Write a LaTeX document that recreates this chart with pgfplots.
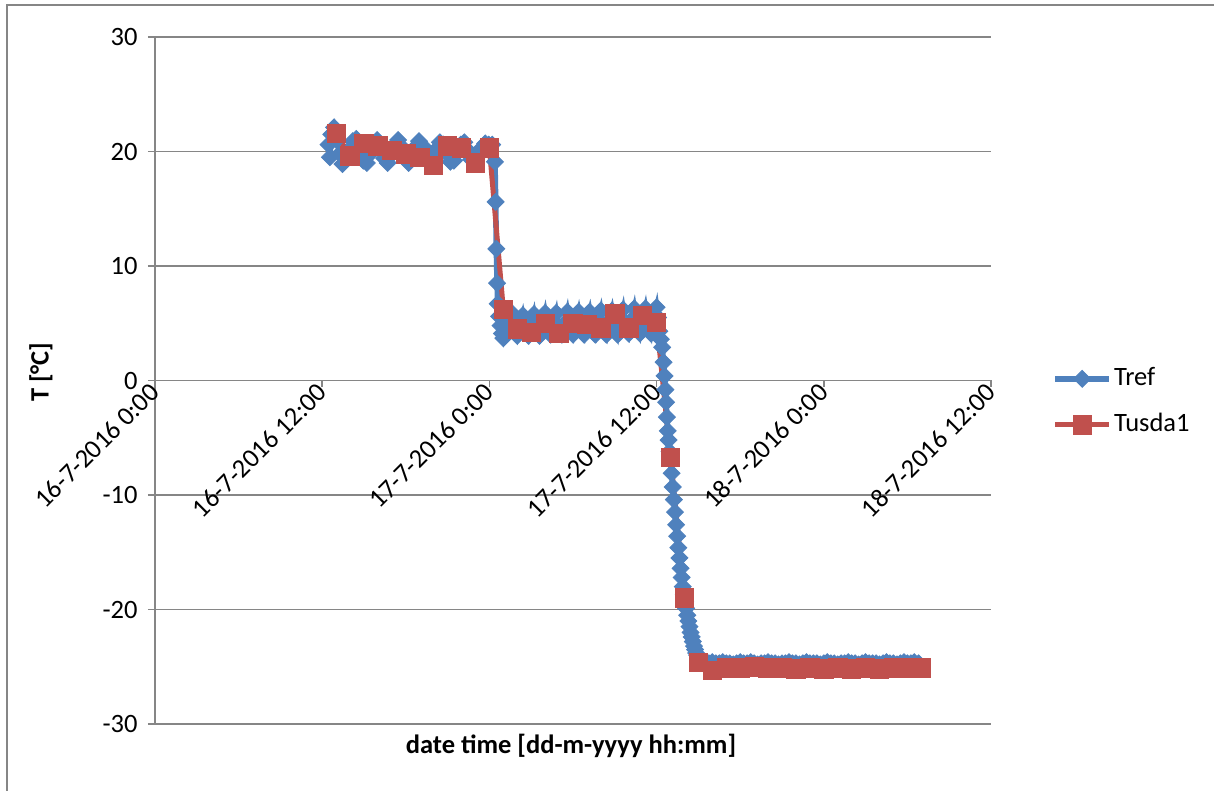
\documentclass[border=0pt]{standalone}
\usepackage{fontspec}
\setmainfont{Carlito}
\usepackage{pgfplots}
\pgfplotsset{compat=1.18}
\definecolor{tref}{RGB}{79,129,189}
\definecolor{tusda}{RGB}{192,80,77}
\definecolor{gridc}{RGB}{134,134,134}
\newcommand{\fs}{\fontsize{13.25pt}{15.5pt}\selectfont}
\begin{document}
\fs
\begin{tikzpicture}
\useasboundingbox (-77.5pt,-33.5pt) rectangle (529.5pt,362pt);
\draw[gridc, line width=0.7pt] (-74pt,-33.5pt) -- (-74pt,359.5pt) -- (529.5pt,359.5pt);
\begin{axis}[
  at={(0pt,0pt)}, anchor=south west,
  scale only axis, width=418pt, height=343.5pt,
  xmin=0, xmax=60, ymin=-30, ymax=30,
  axis x line=middle, axis y line=left,
  hide obscured x ticks=false, hide obscured y ticks=false,
  axis line style={gridc, line width=0.8pt, -},
  xtick={0,12,24,36,48,60},
  xticklabels={16-7-2016 0:00,16-7-2016 12:00,17-7-2016 0:00,17-7-2016 12:00,18-7-2016 0:00,18-7-2016 12:00},
  ytick={-30,-20,-10,0,10,20,30},
  yticklabels={-30,-20,-10,0,10,20,30},
  ymajorgrids, grid style={gridc, line width=0.8pt},
  tick align=outside, major tick length=3.5pt,
  tick style={gridc, line width=0.8pt},
  every tick label/.append style={font=\fs, text=black},
  xticklabel style={rotate=45, anchor=east, inner sep=0pt},
  yticklabel style={anchor=east, inner sep=0pt, xshift=-5pt},
  xlabel={\bfseries date time [dd-m-yyyy hh:mm]},
  ylabel={\bfseries T [°C]},
  every axis x label/.style={at={(axis description cs:0.4976,0)}, anchor=center, yshift=-11pt, font=\fs},
  every axis y label/.style={at={(axis description cs:0,0.512)}, xshift=-57pt, rotate=90, anchor=center, font=\fs},
  legend style={at={(1.073,0.469)}, anchor=west, draw=none, fill=none, inner sep=0pt,
    font=\fs, row sep=8.5pt, nodes={inner sep=1pt, text height=9.5pt, text depth=3pt}},
  legend cell align=left,
  legend image code/.code={\draw[mark repeat=2,mark phase=2,#1] plot coordinates {(0pt,0pt) (13.5pt,0pt) (27pt,0pt)};},
]
\addplot[color=tref, line width=2.8pt, mark=square*, mark size=3pt,
  mark options={rotate=45, fill=tref, draw=tref, line width=0.4pt, solid}] coordinates {
(12.45,20.6) (12.55,19.5) (12.65,21.5) (12.85,22.1) (13.05,21.0) (13.25,19.8) (13.45,18.9) (13.70,19.3)
(13.95,20.1) (14.20,20.9) (14.45,21.1) (14.70,20.2) (14.95,19.2) (15.20,19.0) (15.45,19.8) (15.70,20.6)
(15.95,21.0) (16.20,20.3) (16.45,19.4) (16.70,19.0) (16.95,19.7) (17.20,20.5) (17.45,21.0) (17.70,20.4)
(17.95,19.5) (18.20,19.0) (18.45,19.6) (18.70,20.4) (18.95,20.9) (19.20,20.5) (19.45,19.6) (19.70,19.0)
(19.95,19.4) (20.20,20.2) (20.45,20.8) (20.70,20.6) (20.95,19.8) (21.20,19.1) (21.45,19.2) (21.70,19.9)
(21.95,20.6) (22.20,20.8) (22.45,20.1) (22.70,19.3) (22.95,19.0) (23.20,19.6) (23.45,20.3) (23.70,20.7)
(23.95,20.6) (24.20,20.6) (24.40,19.1) (24.45,15.6) (24.50,11.5) (24.55,8.5) (24.60,6.7)
(24.70,5.6) (24.80,4.8) (24.90,4.1) (25.00,3.7) (25.20,4.5) (25.40,5.4) (25.60,5.9) (25.80,4.6)
(26.00,3.9) (26.20,4.8) (26.40,5.7) (26.60,4.5) (26.80,3.9) (27.00,4.9) (27.20,5.8) (27.40,4.4)
(27.60,3.9) (27.80,4.9) (28.00,5.9) (28.20,4.5) (28.40,4.0) (28.60,5.0) (28.80,5.9) (29.00,4.4)
(29.20,4.0) (29.40,5.0) (29.60,6.0) (29.80,4.6) (30.00,4.0) (30.20,5.1) (30.40,6.0) (30.60,4.6)
(30.80,4.0) (31.00,5.1) (31.20,6.0) (31.40,4.5) (31.60,4.0) (31.80,5.2) (32.00,6.1) (32.20,4.6)
(32.40,4.0) (32.60,5.2) (32.80,6.1) (33.00,4.7) (33.20,4.0) (33.40,5.2) (33.60,6.2) (33.80,4.7)
(34.00,4.1) (34.20,5.3) (34.40,6.3) (34.60,4.8) (34.80,4.1) (35.00,5.3) (35.20,6.3) (35.40,4.8)
(35.60,4.1) (35.80,5.4) (36.00,6.4) (36.10,5.5)
(36.20,4.3) (36.30,3.6) (36.40,2.9) (36.50,1.6) (36.57,0.4) (36.63,-0.8) (36.68,-1.9) (36.74,-3.2)
(36.80,-4.4) (36.86,-5.2) (36.93,-6.2) (37.00,-7.0) (37.08,-8.1) (37.16,-9.3) (37.24,-10.4) (37.32,-11.5)
(37.40,-12.6) (37.48,-13.6) (37.56,-14.6) (37.64,-15.5) (37.72,-16.4) (37.80,-17.2) (37.88,-18.0) (37.96,-18.7)
(38.04,-19.3) (38.12,-19.9) (38.20,-20.5) (38.28,-21.0) (38.36,-21.5) (38.44,-22.0) (38.52,-22.4) (38.60,-22.8)
(38.68,-23.2) (38.76,-23.5) (38.84,-23.8) (38.92,-24.0) (39.00,-24.2) (39.08,-24.4) (39.16,-24.5) (39.25,-24.6)
(39.35,-24.7) (39.50,-24.7) (39.75,-24.7) (40.00,-24.6) (40.25,-24.7) (40.50,-24.7) (40.75,-24.6) (41.00,-24.7)
(41.25,-24.7) (41.50,-24.8) (41.75,-24.7) (42.00,-24.6) (42.25,-24.7) (42.50,-24.7) (42.75,-24.6) (43.00,-24.7)
(43.25,-24.8) (43.50,-24.7) (43.75,-24.7) (44.00,-24.6) (44.25,-24.7) (44.50,-24.7) (44.75,-24.8) (45.00,-24.7)
(45.25,-24.7) (45.50,-24.6) (45.75,-24.7) (46.00,-24.7) (46.25,-24.8) (46.50,-24.7) (46.75,-24.6) (47.00,-24.7)
(47.25,-24.7) (47.50,-24.7) (47.75,-24.8) (48.00,-24.7) (48.25,-24.6) (48.50,-24.7) (48.75,-24.7) (49.00,-24.8)
(49.25,-24.7) (49.50,-24.7) (49.75,-24.6) (50.00,-24.7) (50.25,-24.7) (50.50,-24.8) (50.75,-24.7) (51.00,-24.6)
(51.25,-24.7) (51.50,-24.7) (51.75,-24.7) (52.00,-24.8) (52.25,-24.7) (52.50,-24.6) (52.75,-24.7) (53.00,-24.7)
(53.25,-24.8) (53.50,-24.7) (53.75,-24.6) (54.00,-24.7) (54.25,-24.7) (54.50,-24.6) (54.80,-24.7)
};
\addlegendentry{Tref}
\addplot[color=tusda, line width=2.5pt, mark=square*, mark size=4.6pt,
  mark options={fill=tusda, draw=tusda, line width=0.4pt, solid}] coordinates {
(13,21.6) (14,19.6) (15,20.7) (16,20.5) (17,20.1) (18,19.8) (19,19.5) (20,18.8) (21,20.5) (22,20.3) (23,19.0) (24,20.3)
(25,6.2) (26,4.5) (27,4.2) (28,5.0) (29,4.1) (30,5.0) (31,4.9) (32,4.6) (33,5.8) (34,4.6) (35,5.7) (36,5.1)
(37,-6.7) (38,-19.0) (39,-24.6) (40,-25.3) (41,-25.1) (42,-25.1) (43,-25.0) (44,-25.1) (45,-25.1) (46,-25.2)
(47,-25.1) (48,-25.2) (49,-25.1) (50,-25.2) (51,-25.1) (52,-25.2) (53,-25.1) (54,-25.1) (55,-25.1)
};
\addlegendentry{Tusda1}
\end{axis}
\end{tikzpicture}
\end{document}
